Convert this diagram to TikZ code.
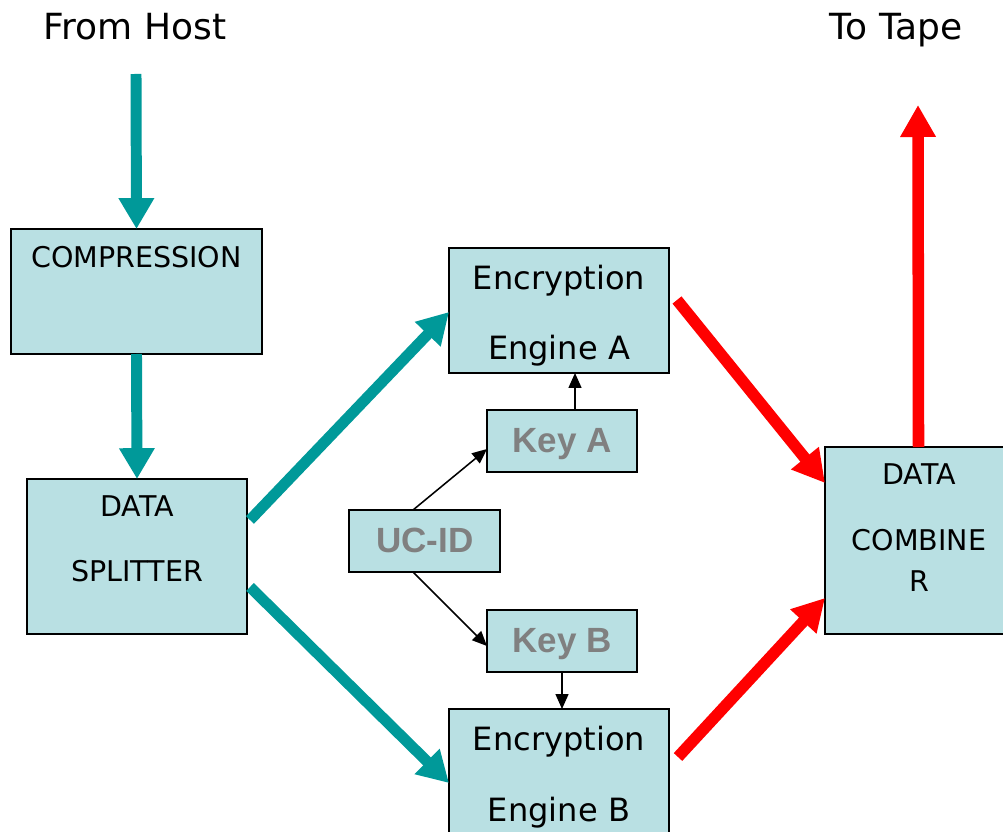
\documentclass[tikz,border=0pt]{standalone}
\usepackage{fontspec}
\setmainfont{DejaVu Sans}
\newfontfamily\keyfont{Liberation Sans}
\usetikzlibrary{positioning, arrows.meta}

\newcommand\px{0.025cm}
\definecolor{boxfill}{RGB}{185,224,227}
\definecolor{flowteal}{RGB}{0,153,153}
\definecolor{keygray}{RGB}{128,128,128}

\begin{document}
\begin{tikzpicture}[
    x=\px, y=-\px,
    box/.style={rectangle, draw, line width=1.4pt, fill=boxfill, inner sep=0pt, outer sep=0pt},
    keybox/.style={box, minimum width=150*\px, minimum height=62*\px},
    txt/.style={anchor=base, inner sep=0pt, font=\fontsize{20.3}{24}\selectfont},
    bigtxt/.style={anchor=base, inner sep=0pt, font=\fontsize{22.8}{27}\selectfont},
    headtxt/.style={anchor=base, inner sep=0pt, font=\fontsize{25.6}{30}\selectfont},
    keytxt/.style={anchor=base, inner sep=0pt, text=keygray, font=\keyfont\bfseries\fontsize{24.9}{30}\selectfont},
    tealarrow/.style={-{Triangle[width=0.84cm, length=0.77cm]}, line width=7.8pt, flowteal},
    redarrow/.style={-{Triangle[width=0.84cm, length=0.8cm]}, line width=8.2pt, red},
    thinarrow/.style={-{Triangle[width=0.32cm, length=0.37cm]}, line width=1.1pt}
]
\clip (0,0) rectangle (1003,832);

% Headings
\node[headtxt] (fromhost) at (135,40) {From Host};
\node[headtxt] (totape) at (896,40) {To Tape};
\coordinate (host) at (136,74);
\coordinate (tape) at (918,105);

% Boxes
\node[box, minimum width=251*\px, minimum height=125*\px] (comp) at (136.5,291.5) {};
\node[box, minimum width=220*\px, minimum height=155*\px] (split) at (137,556.5) {};
\node[box, minimum width=220*\px, minimum height=125*\px] (engA) at (559,310.5) {};
\node[box, minimum width=220*\px, minimum height=134*\px] (engB) at (559,776) {};
\node[box, minimum width=187*\px, minimum height=187*\px] (comb) at (918.5,540.5) {};
\node[keybox] (keyA) at (562,441) {};
\node[keybox] (keyB) at (562,641) {};
\node[keybox, minimum width=151*\px] (ucid) at (424.5,541) {};

% Box texts
\node[txt] (comptxt) at (136.5,267.5) {COMPRESSION};
\node[txt] (splittxt) at (137,516) {DATA};
\node[txt] (splittxtb) at (137,581) {SPLITTER};
\node[bigtxt] (engAtxt) at (559,290) {Encryption};
\node[bigtxt] (engAtxtb) at (559,359.5) {Engine A};
\node[bigtxt] (engBtxt) at (559,750.5) {Encryption};
\node[bigtxt] (engBtxtb) at (559,821.5) {Engine B};
\node[txt] (combtxt) at (919,484.5) {DATA};
\node[txt] (combtxtb) at (919,550.5) {COMBINE};
\node[txt] (combtxtc) at (919,591) {R};
\node[keytxt] (keyAtxt) at (562,452) {Key A};
\node[keytxt] (keyBtxt) at (562,652) {Key B};
\node[keytxt] (uctxt) at (425,552) {UC-ID};

% Data path in
\draw[tealarrow] (host) -- (comp.north);
\draw[tealarrow] (comp.south) -- (split.north);
\draw[tealarrow] ([shift={(3,-36.5)}]split.east) -- ([shift={(0,1.5)}]engA.west);
\draw[tealarrow] ([shift={(3,30.5)}]split.east) -- ([shift={(0,7)}]engB.west);

% Data path out
\draw[redarrow] ([shift={(8,-10.5)}]engA.east) -- ([shift={(0,-57.5)}]comb.west);
\draw[redarrow] ([shift={(9,-19)}]engB.east) -- ([shift={(0,57.5)}]comb.west);
\draw[redarrow] (comb.north) -- (tape);

% Keys
\draw[thinarrow] ([shift={(-11.5,0)}]ucid.north) -- ([shift={(0,8)}]keyA.west);
\draw[thinarrow] ([shift={(-11.5,0)}]ucid.south) -- ([shift={(0,5)}]keyB.west);
\draw[thinarrow] ([shift={(13,0)}]keyA.north) -- ([shift={(13,0)}]keyA.north |- engA.south);
\draw[thinarrow] (keyB.south) -- (keyB.south |- engB.north);

\end{tikzpicture}
\end{document}
